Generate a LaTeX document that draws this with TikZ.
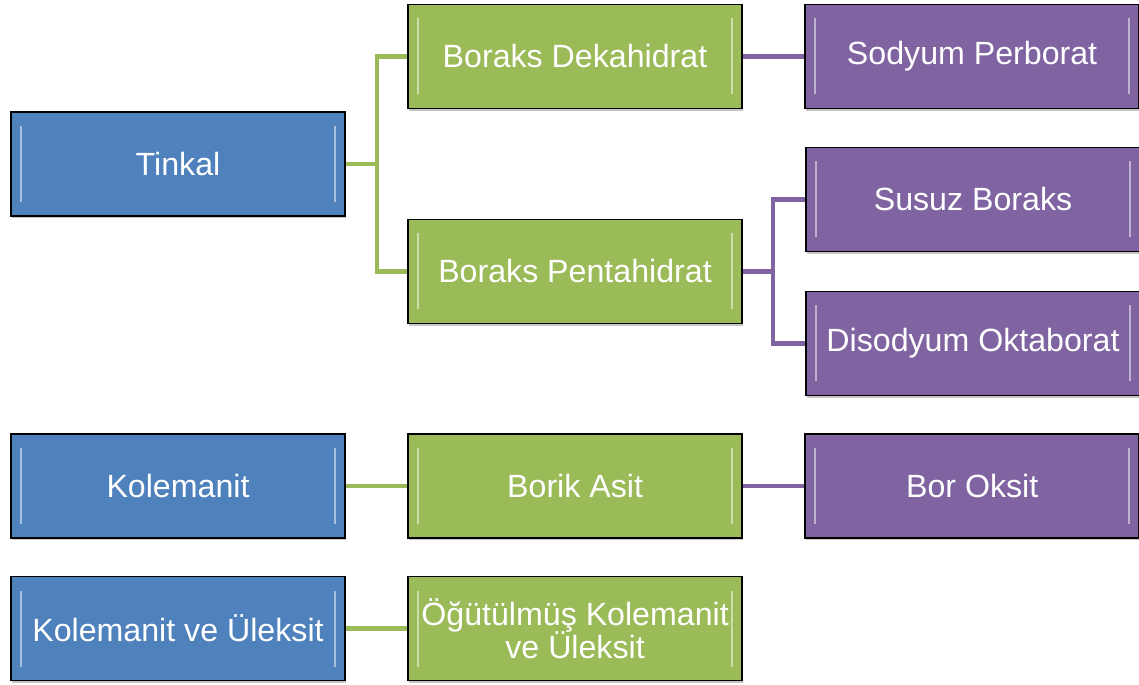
\documentclass[tikz,border=0pt]{standalone}
\usepackage{fontspec}
\setmainfont{Liberation Sans}
\usepackage{tikz}
\usetikzlibrary{positioning}
\usetikzlibrary{shadows}
\definecolor{oblue}{RGB}{79,129,189}
\definecolor{ogreen}{RGB}{155,187,89}
\definecolor{opurple}{RGB}{128,100,162}

\begin{document}
\begin{tikzpicture}[node distance=1.23cm,thick]
      \tikzset{every node/.style={font=\fontsize{18.3}{17.2}\selectfont},
        box/.style={draw=black,line width=0.9pt,text=white,inner sep=0pt,
          minimum width=6.68cm,minimum height=2.08cm,align=center,
          drop shadow={shadow xshift=0.6pt,shadow yshift=-1.2pt,opacity=0.45},
          path picture={
            \draw[white,opacity=0.5,line width=1.3pt]
              ([xshift=0.2cm,yshift=-0.28cm]path picture bounding box.north west) --
              ([xshift=0.2cm,yshift=0.28cm]path picture bounding box.south west);
            \draw[white,opacity=0.5,line width=1.3pt]
              ([xshift=-0.2cm,yshift=-0.28cm]path picture bounding box.north east) --
              ([xshift=-0.2cm,yshift=0.28cm]path picture bounding box.south east);}},
        cevher/.style={box,fill=oblue},
        ara/.style={box,fill=ogreen},
        urun/.style={box,fill=opurple},
        gline/.style={ogreen,line width=2.4pt},
        pline/.style={opurple,line width=2.4pt}}

      \useasboundingbox (0,0) rectangle (22.78,13.68);

      % birinci grup
      \node[cevher] (tinkal) at (3.56,10.4) {Tinkal};
      \node[ara]    (dek)    at (11.5,12.55) {Boraks Dekahidrat};
      \node[ara]    (pen)    at (11.5,8.25) {Boraks Pentahidrat};
      \node[urun]   (sper)   [right=of dek] {Sodyum Perborat};
      \node[urun]   (susuz)  at (19.46,9.69) {Susuz Boraks};
      \node[urun]   (diso)   at (19.46,6.81) {Disodyum Oktaborat};

      % ikinci grup
      \node[cevher] (kol)    at (3.56,3.96) {Kolemanit};
      \node[ara]    (borik)  [right=of kol] {Borik Asit};
      \node[urun]   (oksit)  [right=of borik] {Bor Oksit};

      % ucuncu grup
      \node[cevher] (kolul)  at (3.56,1.11) {Kolemanit ve Üleksit};
      \node[ara]    (ogut)   [right=of kolul] {Öğütülmüş Kolemanit\\[-1.5pt]ve Üleksit};

      \coordinate (c1) at (7.54,10.4);
      \coordinate (c2) at (15.46,8.25);

      \draw[gline] (tinkal.east) -- (c1);
      \draw[gline] (c1) |- (dek.west);
      \draw[gline] (c1) |- (pen.west);
      \draw[pline] (dek.east) -- (sper.west);
      \draw[pline] (pen.east) -- (c2);
      \draw[pline] (c2) |- (susuz.west);
      \draw[pline] (c2) |- (diso.west);
      \draw[gline] (kol.east) -- (borik.west);
      \draw[pline] (borik.east) -- (oksit.west);
      \draw[gline] (kolul.east) -- (ogut.west);
\end{tikzpicture}
\end{document}
